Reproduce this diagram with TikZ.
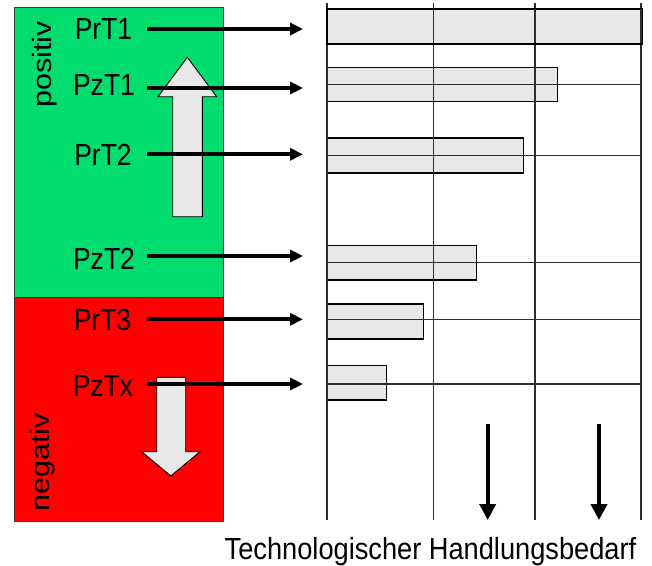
\documentclass[tikz,border=0pt]{standalone}
\usepackage{fontspec}
\setmainfont{Liberation Sans}
\usetikzlibrary{arrows.meta}
\definecolor{posgreen}{RGB}{0,221,110}
\definecolor{neggray}{RGB}{60,60,60}
\definecolor{bargray}{RGB}{232,232,232}
\definecolor{gridgray}{RGB}{45,45,45}
\begin{document}
\begin{tikzpicture}[x=1pt,y=-1pt,
  lbl/.style={font=\fontsize{30.5}{36}\selectfont, inner sep=0pt, anchor=base, xscale=0.87},
  sidelbl/.style={font=\fontsize{30.5}{36}\selectfont, inner sep=0pt, rotate=90, yscale=0.87},
  bar/.style={draw=black, line width=1.3pt, fill=bargray, inner sep=0pt, anchor=north west},
  grid/.style={draw=gridgray, line width=1.4pt},
  harrow/.style={line width=4pt, -{Triangle[length=13pt,width=12pt]}},
  varrow/.style={line width=4.3pt, -{Triangle[length=16pt,width=16pt]}},
  hollow/.style={draw=black, line width=0.9pt, fill=bargray, line join=miter},
  zone/.style={draw=neggray, line width=1pt}]
\useasboundingbox (0,0) rectangle (652,565);

% zones
\path[zone, fill=posgreen] (14.5,7.5) rectangle (223.5,297);
\path[zone, fill=red] (14.5,297) rectangle (223.5,521);
\node[sidelbl] (pos) at (45,64.5) {positiv};
\node[sidelbl] (neg) at (42.5,462.5) {negativ};

% hollow arrows
\path[hollow] (172.7,216.7) -- (172.7,96.7) -- (158,96.7) -- (187.3,57.3) -- (216.7,96.7) -- (202.3,96.7) -- (202.3,216.7) -- cycle;
\path[hollow] (156.7,377.3) -- (156.7,451.7) -- (141.7,451.7) -- (170.8,476) -- (200,451.7) -- (185.7,451.7) -- (185.7,377.3) -- cycle;

% bars
\node[bar, minimum width=314pt, minimum height=34.4pt] (b1) at (327,8.3) {};
\node[bar, minimum width=229.7pt, minimum height=34.3pt] (b2) at (327,66.7) {};
\node[bar, minimum width=195.7pt, minimum height=35pt] (b3) at (327,137.3) {};
\node[bar, minimum width=148.7pt, minimum height=34.3pt] (b4) at (327,245) {};
\node[bar, minimum width=95.7pt, minimum height=35pt] (b5) at (327,303.3) {};
\node[bar, minimum width=59pt, minimum height=34.3pt] (b6) at (327,365) {};

% grid
\coordinate (g0t) at (327,3);   \coordinate (g0b) at (327,520);
\coordinate (g1t) at (433.3,3); \coordinate (g1b) at (433.3,520);
\coordinate (g2t) at (535,3);   \coordinate (g2b) at (535,520);
\coordinate (g3t) at (641,3);   \coordinate (g3b) at (641,520);
\draw[grid] (g0t) -- (g0b);
\draw[grid] (g1t) -- (g1b);
\draw[grid] (g2t) -- (g2b);
\draw[grid] (g3t) -- (g3b);
\draw[grid, line width=1.2pt] (b2.west) -- (b2.west -| g3t);
\draw[grid, line width=1.2pt] (b3.west) -- (b3.west -| g3t);
\draw[grid, line width=1.2pt] (b4.west) -- (b4.west -| g3t);
\draw[grid, line width=1.2pt] (327,319.3) -- (641,319.3);
\draw[grid, line width=1.2pt] (327,384) -- (641,384);
\draw[black, line width=1.3pt] (b1.north west) rectangle (b1.south east);

% labels
\node[lbl] (l1) at (103.5,39.3) {PrT1};
\node[lbl] (l2) at (104,95.7) {PzT1};
\node[lbl] (l3) at (103,165.7) {PrT2};
\node[lbl] (l4) at (104,269) {PzT2};
\node[lbl] (l5) at (102.5,330.7) {PrT3};
\node[lbl] (l6) at (103,396) {PzTx};

% arrows from labels to bars
\coordinate (s1) at (147,29);    \coordinate (e1) at (303,29);
\coordinate (s2) at (147,88);    \coordinate (e2) at (303,88);
\coordinate (s3) at (147,154.3); \coordinate (e3) at (303,154.3);
\coordinate (s4) at (147,256);   \coordinate (e4) at (303,256);
\coordinate (s5) at (147,319.3); \coordinate (e5) at (303,319.3);
\coordinate (s6) at (147,384);   \coordinate (e6) at (303,384);
\draw[harrow] (s1) -- (e1);
\draw[harrow] (s2) -- (e2);
\draw[harrow] (s3) -- (e3);
\draw[harrow] (s4) -- (e4);
\draw[harrow] (s5) -- (e5);
\draw[harrow] (s6) -- (e6);

% down arrows
\coordinate (d1t) at (487.7,424); \coordinate (d1b) at (487.7,520);
\coordinate (d2t) at (599,424);   \coordinate (d2b) at (599,520);
\draw[varrow] (d1t) -- (d1b);
\draw[varrow] (d2t) -- (d2b);

% axis caption
\node[lbl, xscale=1.026] (cap) at (430.5,559) {Technologischer Handlungsbedarf};
\end{tikzpicture}
\end{document}
